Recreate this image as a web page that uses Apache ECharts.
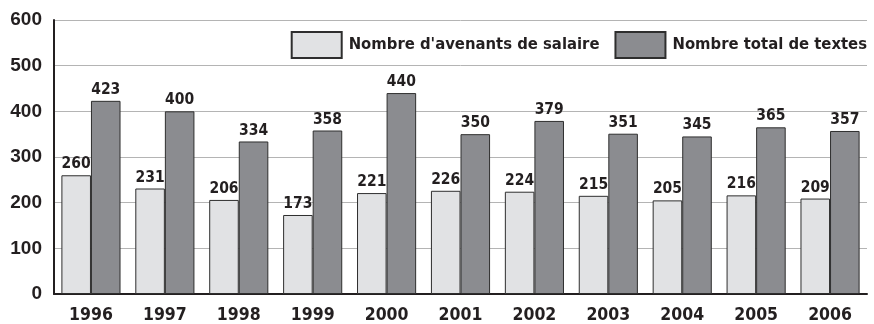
<!DOCTYPE html>
<html>
<head>
<meta charset="utf-8">
<script src="https://cdn.jsdelivr.net/npm/echarts@6/dist/echarts.min.js"></script>
<style>
  html, body { margin: 0; padding: 0; background: #fff; }
  #chart { width: 874px; height: 324px; }
</style>
</head>
<body>
<div id="chart"></div>
<script>
// Years on the category axis
const years = ['1996', '1997', '1998', '1999', '2000', '2001', '2002', '2003', '2004', '2005', '2006'];
// Salary amendments per year
const avenantsSalaire = [260, 231, 206, 173, 221, 226, 224, 215, 205, 216, 209];
// Total number of texts per year
const totalTextes = [423, 400, 334, 358, 440, 350, 379, 351, 345, 365, 357];
// Series names
const seriesNames = ["Nombre d'avenants de salaire", 'Nombre total de textes'];

// condensed bold face for labels and legend, regular-width bold for the value axis
const narrow = "'DejaVu Sans Condensed', 'DejaVu Sans', sans-serif";
const wide = "'Liberation Sans', Arial, sans-serif";
const ink = '#231f20';

const chart = echarts.init(document.getElementById('chart'), null, { renderer: 'canvas' });

const valueLabel = {
  show: true,
  position: 'top',
  distance: 3,
  color: ink,
  fontFamily: narrow,
  fontWeight: 'bold',
  fontSize: 15.5
};

chart.setOption({
  animation: false,
  backgroundColor: '#ffffff',
  grid: { left: 54, right: 7, top: 20, bottom: 28, containLabel: false },
  legend: {
    right: 2,
    top: 26,
    itemWidth: 50,
    itemHeight: 26,
    itemGap: 15,
    icon: 'rect',
    textStyle: { color: ink, fontFamily: narrow, fontWeight: 'bold', fontSize: 16.5, padding: [0, 0, 0, 2] },
    data: seriesNames
  },
  xAxis: {
    type: 'category',
    data: years,
    axisLine: { show: true, lineStyle: { color: ink, width: 2 } },
    axisTick: { show: false },
    axisLabel: { color: ink, fontFamily: narrow, fontWeight: 'bold', fontSize: 17.5, margin: 12 }
  },
  yAxis: {
    type: 'value',
    min: 0,
    max: 600,
    interval: 100,
    axisLine: { show: true, lineStyle: { color: ink, width: 2 } },
    axisTick: { show: false },
    splitLine: { show: true, lineStyle: { color: '#b4b4b4', width: 1 } },
    axisLabel: { color: ink, fontFamily: wide, fontWeight: 'bold', fontSize: 19, margin: 12, padding: [6, 0, 0, 0] }
  },
  series: [
    {
      name: seriesNames[0],
      type: 'bar',
      data: avenantsSalaire,
      barGap: '0%',
      barCategoryGap: '20%',
      itemStyle: { color: '#e1e2e4', borderColor: '#2e2e2e', borderWidth: 1 },
      label: valueLabel
    },
    {
      name: seriesNames[1],
      type: 'bar',
      data: totalTextes,
      barGap: '0%',
      barCategoryGap: '20%',
      itemStyle: { color: '#8b8c90', borderColor: '#2e2e2e', borderWidth: 1 },
      label: valueLabel
    }
  ]
});
</script>
</body>
</html>
